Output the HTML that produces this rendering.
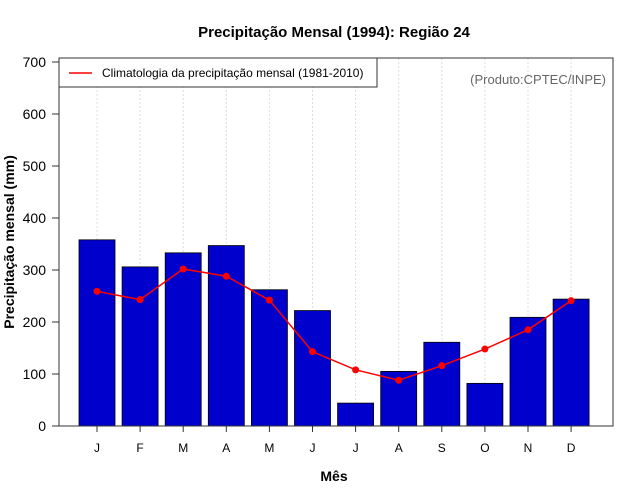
<!DOCTYPE html>
<html><head><meta charset="utf-8"><style>
body{margin:0;background:#fff;}
svg{display:block;font-family:"Liberation Sans",sans-serif;}
</style></head><body>
<svg id="c" width="640" height="500">
<text x="334" y="37" text-anchor="middle" font-size="15" font-weight="bold">Precipitação Mensal (1994): Região 24</text>
<text x="334" y="481" text-anchor="middle" font-size="14" font-weight="bold">Mês</text>
<text transform="translate(14,242) rotate(-90)" text-anchor="middle" font-size="14" font-weight="bold">Precipitação mensal (mm)</text>
<g id="grid"></g><g id="bars"></g><g id="line"></g><g id="axes"></g>
<rect x="59" y="58" width="554" height="368" fill="none" stroke="#333" stroke-width="1"/>
<g>
<rect x="59" y="58" width="318" height="29" fill="#fff" stroke="#333"/>
<line x1="69" y1="73" x2="92" y2="73" stroke="red" stroke-width="1.5"/>
<text x="102" y="77" font-size="12">Climatologia da precipitação mensal (1981-2010)</text>
</g>
<text x="606" y="84" text-anchor="end" font-size="13" fill="#666">(Produto:CPTEC/INPE)</text>
</svg>
<script>
const months=["J","F","M","A","M","J","J","A","S","O","N","D"];
const precip=[358,306,333,347,262,222,44,105,161,82,209,244];
const clim=[259,243,302,288,242,143,108,88,116,148,185,241];
const yTicks=[0,100,200,300,400,500,600,700];
const NS="http://www.w3.org/2000/svg";
const y=v=>426-v*0.52;
const x=i=>97+i*43.1;
function mk(t,a,p){const e=document.createElementNS(NS,t);for(const k in a)e.setAttribute(k,a[k]);p.appendChild(e);return e;}
const g=document.getElementById('grid'),b=document.getElementById('bars'),l=document.getElementById('line'),ax=document.getElementById('axes');
months.forEach((m,i)=>{
 const gl=mk('line',{x1:x(i),x2:x(i),y1:58,y2:426,stroke:'#ddd','stroke-dasharray':'2,2'},g);
 
 
 const r=mk('rect',{x:x(i)-18,y:y(precip[i]),width:36,height:426-y(precip[i]),fill:'#0000cd',stroke:'#000','stroke-width':0.8},b);
 
 
 const tk=mk('line',{x1:x(i),x2:x(i),y1:426,y2:432,stroke:'#333'},ax);
 
 
 const t=mk('text',{x:x(i),y:452,'text-anchor':'middle','font-size':12},ax);t.textContent=m;
 
 
});
const pl=mk('polyline',{points:clim.map((v,i)=>x(i)+','+y(v)).join(' '),fill:'none',stroke:'red','stroke-width':1.5},l);


clim.forEach((v,i)=>{const c=mk('circle',{cx:x(i),cy:y(v),r:3.5,fill:'red'},l);
 
 });
yTicks.forEach(v=>{
 const tk=mk('line',{x1:52,x2:59,y1:y(v),y2:y(v),stroke:'#333'},ax);
 
 
 const t=mk('text',{x:46,y:y(v)+5,'text-anchor':'end','font-size':14},ax);t.textContent=v;
 
 
});
</script>
</body></html>
